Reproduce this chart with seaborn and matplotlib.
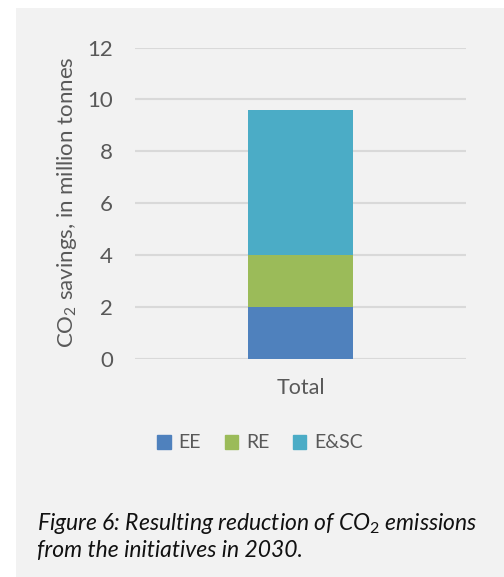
import seaborn as sns
import matplotlib.pyplot as plt
import matplotlib.patches as mpatches
import pandas as pd

# data
category = ["Total"]
ee = [2.0]
re_ = [2.0]
esc = [5.6]
series_names = ["EE", "RE", "E&SC"]
series_colors = ["#4f81bd", "#9bbb59", "#4bacc6"]
yticks = [0, 2, 4, 6, 8, 10, 12]

sns.set_style("white")
plt.rcParams["font.family"] = ["Lato", "DejaVu Sans"]
plt.rcParams["mathtext.fontset"] = "custom"
plt.rcParams["mathtext.rm"] = "Lato"
plt.rcParams["mathtext.it"] = "Lato:italic"

txt = "#595959"
bg = "#f2f2f2"

fig = plt.figure(figsize=(5.04, 5.77), dpi=100, facecolor="white")
# grey panel behind the chart
fig.patches.append(mpatches.Rectangle((16 / 504, 0), 1 - 16 / 504, 1 - 8 / 577,
                                      transform=fig.transFigure, facecolor=bg,
                                      edgecolor="none", zorder=-5))
ax = fig.add_axes([135 / 504, 1 - 359 / 577, 331 / 504, 311.5 / 577])
ax.set_facecolor("none")
ax.set_zorder(2)

# stacked: draw cumulative totals, tallest first
df = pd.DataFrame({"cat": category, "EE": ee, "RE": re_, "E&SC": esc})
df["c1"] = df["EE"]
df["c2"] = df["EE"] + df["RE"]
df["c3"] = df["c2"] + df["E&SC"]
for col, color in zip(["c3", "c2", "c1"], series_colors[::-1]):
    sns.barplot(data=df, x="cat", y=col, color=color, width=0.317,
                saturation=1, ax=ax, zorder=3, edgecolor="none", linewidth=0)

ax.set_ylim(0, 12)
ax.set_xlim(-0.5, 0.5)
ax.set_yticks(yticks)
ax.grid(axis="y", color="#d9d9d9", linewidth=1.5, zorder=0)
ax.set_axisbelow(True)
for s in ax.spines.values():
    s.set_visible(False)
ax.tick_params(axis="y", length=0, pad=16, labelsize=16, labelcolor=txt)
ax.tick_params(axis="x", length=0, pad=14, labelsize=15.5, labelcolor=txt)
ax.set_xlabel("")
ax.set_ylabel(r"CO$_2$ savings, in million tonnes", fontsize=16, color=txt)
ax.yaxis.set_label_coords(-0.17, 0.502)

handles = [mpatches.Patch(color=c, label=n) for n, c in zip(series_names, series_colors)]
fig.legend(handles=handles, loc="center", bbox_to_anchor=(260 / 504, 1 - 443 / 577),
           ncol=3, frameon=False, fontsize=14, labelcolor=txt,
           handlelength=0.7, handleheight=0.7, handletextpad=0.4, columnspacing=1.2)

fig.text(37 / 504, 1 - 523 / 577, r"Figure 6: Resulting reduction of CO$_2$ emissions",
         fontsize=16.5, style="italic", color="#111111", va="center", ha="left")
fig.text(37 / 504, 1 - 551 / 577, "from the initiatives in 2030.",
         fontsize=16.5, style="italic", color="#111111", va="center", ha="left")

fig.savefig("out.png", dpi=100, facecolor="white")
